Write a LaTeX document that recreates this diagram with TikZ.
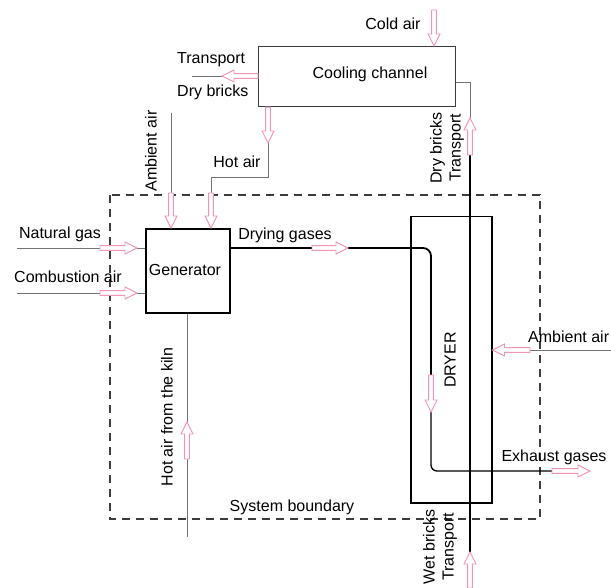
\documentclass[tikz,border=0pt]{standalone}
\usepackage{fontspec}
\setmainfont{Liberation Sans}
\usetikzlibrary{calc}
\definecolor{flowpink}{RGB}{240,150,180}
\definecolor{linegray}{RGB}{115,115,115}
\definecolor{bordergray}{RGB}{60,60,60}
\newcommand{\flowarrow}[2]{%
  \coordinate (fa-h) at ($(#2)!12pt!(#1)$);
  \draw[flow] ($(#1)!2.4pt!90:(#2)$) -- ($(fa-h)!2.4pt!90:(#2)$) -- ($(fa-h)!6pt!90:(#2)$) -- (#2)
    -- ($(fa-h)!6pt!-90:(#2)$) -- ($(fa-h)!2.4pt!-90:(#2)$) -- ($(#1)!2.4pt!-90:(#2)$) -- cycle;}
\begin{document}
\begin{tikzpicture}[x=1pt,y=-1pt,font=\fontsize{16}{19}\selectfont,
  box/.style={inner sep=0pt,anchor=north west},
  thinline/.style={draw=linegray,line width=0.9pt},
  darkline/.style={draw=black,line width=1.3pt},
  thickline/.style={draw=black,line width=1.8pt},
  boundary/.style={draw=bordergray,line width=1.4pt,dash pattern=on 8pt off 6pt},
  lbl/.style={inner sep=0pt},
  flow/.style={draw=flowpink,fill=white,line width=0.9pt,line join=miter}]
\useasboundingbox (0,0) rectangle (611,588);

% boxes
\node[box,draw=bordergray,line width=1.2pt,minimum width=197pt,minimum height=60pt] (cool) at (258,46) {};
\node[box,draw=black,line width=1.8pt,minimum width=84pt,minimum height=84pt] (gen) at (145,228) {};
\node[box,draw=black,line width=1.5pt,minimum width=81pt,minimum height=286pt] (dryer) at (410,216) {};
\draw[boundary] (110,195) rectangle (540,519);

% labels
\node[lbl] (coollbl) at (370,74) {Cooling channel};
\node[lbl] (genlbl) at (185,270) {Generator};
\node[lbl,rotate=90] (dryerlbl) at (450,360) {DRYER};
\node[lbl] (coldlbl) at (393,24) {Cold air};
\node[lbl,anchor=west] (translbl) at (177,60) {Transport};
\node[lbl,anchor=west] (drylbl) at (177,92) {Dry bricks};
\node[lbl,rotate=90] (ambllbl) at (151,151) {Ambient air};
\node[lbl] (hotlbl) at (237,162) {Hot air};
\node[lbl] (nglbl) at (60,234) {Natural gas};
\node[lbl] (calbl) at (68,277) {Combustion air};
\node[lbl] (dglbl) at (285,235) {Drying gases};
\node[lbl,anchor=west] (ambrlbl) at (528,337) {Ambient air};
\node[lbl] (exlbl) at (554,457) {Exhaust gases};
\node[lbl,rotate=90] (kilnlbl) at (167,417) {Hot air from the kiln};
\node[lbl] (sblbl) at (292,507) {System boundary};
\node[lbl,rotate=90,align=center] (dbtlbl) at (447,148) {Dry bricks\\Transport};
\node[lbl,rotate=90,align=center] (wbtlbl) at (440,547) {Wet bricks\\Transport};

% coordinates
\coordinate (cold0) at (434,10);
\coordinate (cold1) at (cool.north -| cold0);
\coordinate (tr0) at (cool.west |- 0,76);
\coordinate (tr1) at (222,76);
\coordinate (tr2) at (192,76);
\coordinate (ha0) at (cool.south -| 268,0);
\coordinate (ha1) at (268,143);
\coordinate (ha2) at (268,177);
\coordinate (ha3) at (211,177);
\coordinate (ha4) at (211,193);
\coordinate (ha5) at (gen.north -| ha4);
\coordinate (aa0) at (171,113);
\coordinate (aa1) at (171,193);
\coordinate (aa2) at (gen.north -| aa1);
\coordinate (ng0) at (17,248);
\coordinate (ng1) at (100,248);
\coordinate (ng2) at (137,248);
\coordinate (ng3) at (gen.west |- ng0);
\coordinate (ca0) at (17,293);
\coordinate (ca1) at (100,293);
\coordinate (ca2) at (137,293);
\coordinate (ca3) at (gen.west |- ca0);
\coordinate (dg0) at (gen.east |- 0,248);
\coordinate (dg1) at (312,248);
\coordinate (dg2) at (348,248);
\coordinate (dg3) at (431,248);
\coordinate (dg4) at (431,375);
\coordinate (dg5) at (431,412);
\coordinate (dg6) at (431,471);
\coordinate (dg7) at (552,471);
\coordinate (dg8) at (590,471);
\coordinate (ar0) at (611,350);
\coordinate (ar1) at (530,350);
\coordinate (ar2) at (dryer.east |- ar0);
\coordinate (hk0) at (gen.south -| 187,0);
\coordinate (hk1) at (187,422);
\coordinate (hk2) at (187,459);
\coordinate (hk3) at (187,537);
\coordinate (db0) at (cool.east |- 0,82);
\coordinate (db1) at (470,82);
\coordinate (db2) at (470,118);
\coordinate (db3) at (470,155);
\coordinate (wb0) at (470,552);
\coordinate (wb1) at (470,588);

% lines
\draw[thinline] (tr1) -- (tr2);
\draw[thinline] (ha1) -- (ha2) -- (ha3) -- (ha4);
\draw[thinline] (aa0) -- (aa1);
\draw[thinline] (ng0) -- (ng1) (ng2) -- (ng3);
\draw[thinline] (ca0) -- (ca1) (ca2) -- (ca3);
\draw[thickline] (dg0) -- (dg1);
\draw[thickline,rounded corners=8pt] (dg2) -- (dg3) -- (dg4);
\draw[darkline,rounded corners=6pt] (dg5) -- (dg6) -- (dg7);
\draw[thinline] (ar0) -- (ar1);
\draw[thinline] (hk0) -- (hk1) (hk2) -- (hk3);
\draw[thinline] (db0) -- (db1) -- (db2);
\draw[darkline] (db3) -- (wb0);

% flow arrows
\flowarrow{cold0}{cold1}
\flowarrow{tr0}{tr1}
\flowarrow{ha0}{ha1}
\flowarrow{ha4}{ha5}
\flowarrow{aa1}{aa2}
\flowarrow{ng1}{ng2}
\flowarrow{ca1}{ca2}
\flowarrow{dg1}{dg2}
\flowarrow{dg4}{dg5}
\flowarrow{dg7}{dg8}
\flowarrow{ar1}{ar2}
\flowarrow{hk2}{hk1}
\flowarrow{db3}{db2}
\flowarrow{wb1}{wb0}
\end{tikzpicture}
\end{document}
